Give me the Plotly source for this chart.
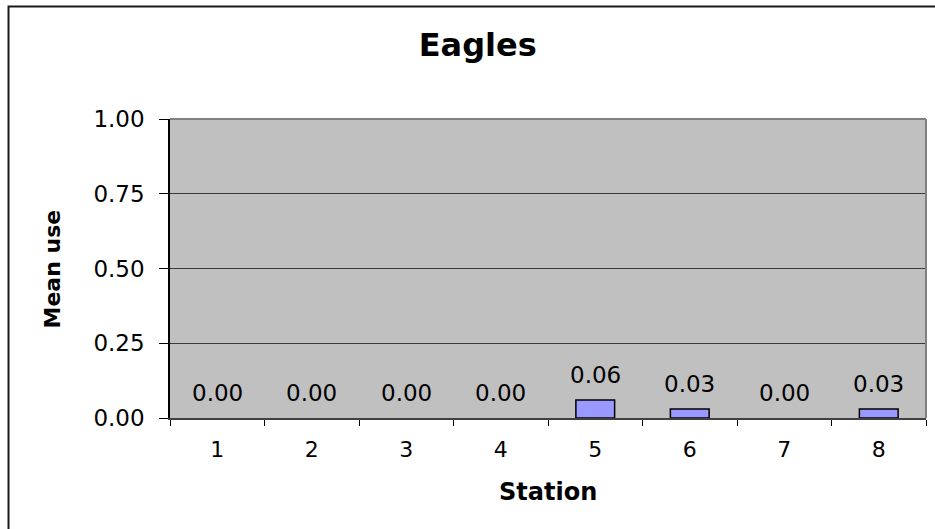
import plotly.graph_objects as go

# Mean use per station
stations = ["1", "2", "3", "4", "5", "6", "7", "8"]
mean_use = [0.00, 0.00, 0.00, 0.00, 0.06, 0.03, 0.00, 0.03]
y_ticks = [0.00, 0.25, 0.50, 0.75, 1.00]

title_text = "Eagles"
x_title = "Station"
y_title = "Mean use"

FONT = "DejaVu Sans, Arial, sans-serif"

fig = go.Figure()
fig.add_trace(go.Bar(
    x=stations,
    y=mean_use,
    width=0.41,
    marker=dict(
        color="#9999FF",
        line=dict(color="#000000", width=[1.5 if v > 0 else 0 for v in mean_use]),
    ),
    hoverinfo="x+y",
))

# value labels above each bar (category axis positions are indices)
for i, v in enumerate(mean_use):
    fig.add_annotation(
        x=i, y=v, xref="x", yref="y",
        text=f"{v:.2f}", showarrow=False,
        yanchor="bottom", yshift=10,
        font=dict(family=FONT, size=23, color="#000000"),
    )

# axis titles
fig.add_annotation(
    x=0.5, y=-0.2475, xref="paper", yref="paper",
    text=f"<b>{x_title}</b>", showarrow=False,
    xanchor="center", yanchor="middle",
    font=dict(family=FONT, size=24, color="#000000"),
)
fig.add_annotation(
    x=-0.1548, y=0.5, xref="paper", yref="paper",
    text=f"<b>{y_title}</b>", showarrow=False, textangle=-90,
    xanchor="center", yanchor="middle",
    font=dict(family=FONT, size=22, color="#000000"),
)

# plot-area frame (top and right) and the chart's outer border
fig.add_shape(type="line", xref="paper", yref="paper", x0=0, x1=1, y0=1, y1=1,
              line=dict(color="#808080", width=2))
fig.add_shape(type="line", xref="paper", yref="paper", x0=1, x1=1, y0=0, y1=1,
              line=dict(color="#808080", width=2))
fig.add_shape(type="rect", xref="paper", yref="paper",
              x0=-0.2136, x1=1.05, y0=-0.45, y1=1.376,
              line=dict(color="#1a1a1a", width=2), layer="above")

fig.update_layout(
    width=935, height=529,
    margin=dict(l=170, r=9, t=119, b=111),
    paper_bgcolor="#FFFFFF",
    plot_bgcolor="#C0C0C0",
    showlegend=False,
    font=dict(family=FONT, size=22, color="#000000"),
    title=dict(
        text=f"<b>{title_text}</b>",
        x=0.511, xref="container", xanchor="center",
        y=1 - 45 / 529, yref="container", yanchor="middle",
        font=dict(family=FONT, size=32, color="#000000"),
    ),
)

fig.update_xaxes(
    type="category",
    range=[-0.5, len(stations) - 0.5],
    tickson="boundaries",
    ticks="outside", ticklen=6, tickwidth=1, tickcolor="#000000",
    showline=True, linecolor="#404040", linewidth=2,
    showgrid=False,
    ticklabelstandoff=11,
    tickfont=dict(family=FONT, size=22, color="#000000"),
)
fig.update_yaxes(
    range=[0, 1],
    tickvals=y_ticks,
    tickformat=".2f",
    ticks="outside", ticklen=9, tickwidth=1, tickcolor="#000000",
    showline=True, linecolor="#000000", linewidth=1.5,
    showgrid=True, gridcolor="#3a3a3a", gridwidth=1,
    zeroline=False,
    ticklabelstandoff=10,
    tickfont=dict(family=FONT, size=23, color="#000000"),
)

fig.write_html("out.html")
